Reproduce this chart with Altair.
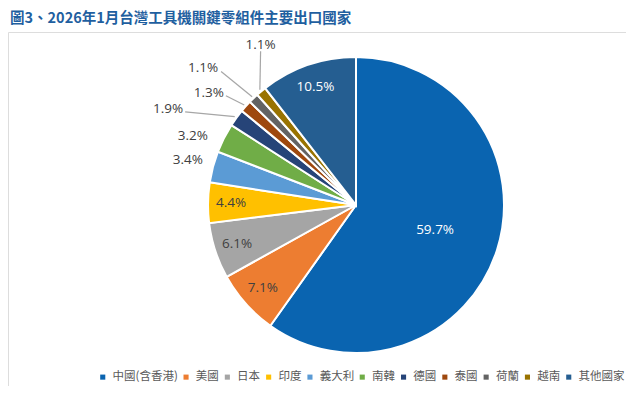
import altair as alt
import pandas as pd

# ---- data ----
countries = ["中國(含香港)", "美國", "日本", "印度", "義大利", "南韓",
             "德國", "泰國", "荷蘭", "越南", "其他國家"]
shares = [59.7, 7.1, 6.1, 4.4, 3.4, 3.2, 1.9, 1.3, 1.1, 1.1, 10.5]

# ---- styles ----
colors = ["#0A64B0", "#ED7D31", "#A5A5A5", "#FFC000", "#5B9BD5", "#70AD47",
          "#264478", "#9E480E", "#636363", "#997300", "#255E91"]
label_colors = ["#FFFFFF", "#404040", "#404040", "#404040", "#404040", "#404040",
                "#404040", "#404040", "#404040", "#404040", "#FFFFFF"]
# label placement: radius from centre (px), angle nudge (deg), leader line, leader start offset
label_radius = [83, 125, 125, 125, 174, 177, 211, 185, 205, 186, 125]
label_nudge = [0, 0, 0, 0, 0, -4, -9, -4.5, -4.4, 9, 0]
leader = [0, 0, 0, 0, 0, 0, 1, 1, 1, 1, 0]
leader_dx = [0, 0, 0, 0, 0, 0, 17, 17, 18, 0, 0]
leader_dy = [0, 0, 0, 0, 0, 0, 3, 3, 3, 6, 0]

CX, CY, R = 348, 173, 148

df = pd.DataFrame({
    "country": countries,
    "share": shares,
    "idx": list(range(len(countries))),
    "lcolor": label_colors,
    "lr": label_radius,
    "nudge": label_nudge,
    "leader": leader,
    "ldx": leader_dx,
    "ldy": leader_dy,
})

base = (
    alt.Chart(df)
    .transform_joinaggregate(total="sum(share)")
    .transform_window(cum="sum(share)", sort=[alt.SortField("idx")], frame=[None, 0])
    .transform_calculate(
        mid="2*PI*(datum.cum - datum.share/2)/datum.total",
        lab="format(datum.share, '.1f') + '%'",
    )
    .transform_calculate(
        la="datum.mid + datum.nudge*PI/180",
        ex=f"{CX} + {R + 2}*sin(datum.mid)",
        ey=f"{CY} - {R + 2}*cos(datum.mid)",
    )
    .transform_calculate(
        lx=f"{CX} + datum.lr*sin(datum.la)",
        ly=f"{CY} - datum.lr*cos(datum.la)",
    )
    .transform_calculate(
        sx="datum.lx + datum.ldx",
        sy="datum.ly + datum.ldy",
    )
)

arcs = base.mark_arc(outerRadius=R, stroke="white", strokeWidth=2).encode(
    theta=alt.Theta("share:Q", stack=True),
    color=alt.Color(
        "country:N",
        scale=alt.Scale(domain=countries, range=colors),
        sort=countries,
        legend=alt.Legend(
            title=None,
            orient="none",
            legendX=89,
            legendY=339,
            direction="horizontal",
            columns=11,
            symbolType="square",
            symbolSize=26,
            symbolStrokeWidth=0,
            labelFont="Noto Sans CJK TC",
            labelFontSize=11.5,
            labelColor="#595959",
            labelOffset=4,
            columnPadding=2.3,
        ),
    ),
    order=alt.Order("idx:Q"),
    x=alt.value(CX),
    y=alt.value(CY),
)

leaders = base.transform_filter("datum.leader == 1").mark_rule(
    color="#A6A6A6", strokeWidth=1.2
).encode(
    x=alt.X("sx:Q", scale=None, axis=None),
    y=alt.Y("sy:Q", scale=None, axis=None),
    x2="ex:Q",
    y2="ey:Q",
)

labels = base.mark_text(font="Open Sans", fontSize=13.5).encode(
    x=alt.X("lx:Q", scale=None, axis=None),
    y=alt.Y("ly:Q", scale=None, axis=None),
    text="lab:N",
    fill=alt.Fill("lcolor:N", scale=None),
)

chart = (
    alt.layer(arcs, leaders, labels)
    .properties(
        width=618,
        height=354,
        padding={"left": 0, "top": 24, "right": 0, "bottom": 0},
        autosize=alt.AutoSizeParams(type="none"),
        title=alt.TitleParams(
            "圖3、2026年1月台灣工具機關鍵零組件主要出口國家",
            anchor="start",
            font="Noto Sans CJK TC",
            fontSize=14.5,
            fontWeight="bold",
            color="#1F5FA0",
            dx=2,
            offset=6,
        ),
    )
    .configure_view(stroke="transparent", strokeWidth=0)
    .configure_axis(domain=False, ticks=False, labels=False, grid=False)
    .configure(background="white")
)

chart.save("out.html", embed_options={"renderer": "svg", "actions": False})
